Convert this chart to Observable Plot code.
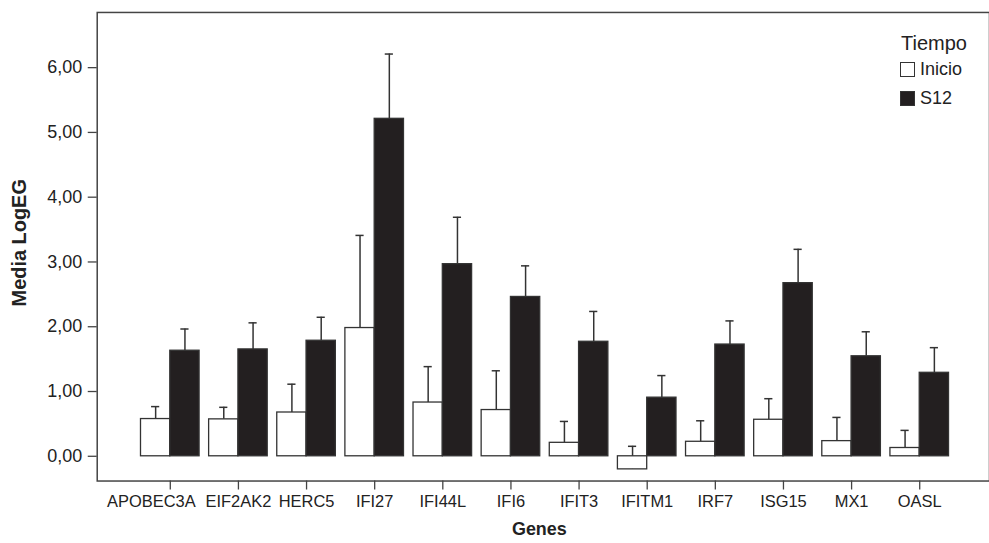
<!DOCTYPE html>
<html>
<head>
<meta charset="utf-8">
<script src="https://cdn.jsdelivr.net/npm/d3@7"></script>
<script src="https://cdn.jsdelivr.net/npm/@observablehq/plot@0.6"></script>
<style>
  html, body { margin: 0; padding: 0; background: #fff; overflow: hidden; }
  #wrap { position: relative; width: 989px; height: 543px; overflow: hidden; }
  #legend { position: absolute; left: 900px; top: 0; font-family: "Liberation Sans", Arial, sans-serif; color: #222; }
  #legend .title { position: absolute; left: 1px; top: 32px; font-size: 20px; white-space: nowrap; }
  #legend .item { position: absolute; left: 0; white-space: nowrap; font-size: 18px; line-height: 15px; }
  #legend .sw { display: inline-block; width: 13px; height: 13px; border: 1px solid #333; vertical-align: top; margin-right: 5px; }
</style>
</head>
<body>
<div id="wrap"></div>
<script>
const genes = ["APOBEC3A", "EIF2AK2", "HERC5", "IFI27", "IFI44L", "IFI6", "IFIT3", "IFITM1", "IRF7", "ISG15", "MX1", "OASL"];
const inicio = [0.575, 0.57, 0.676, 1.98, 0.83, 0.714, 0.208, -0.202, 0.224, 0.564, 0.234, 0.128];
const inicioUpper = [0.767, 0.756, 1.113, 3.41, 1.384, 1.32, 0.538, 0.154, 0.548, 0.889, 0.60, 0.40];
const s12 = [1.63, 1.65, 1.784, 5.21, 2.966, 2.46, 1.768, 0.905, 1.725, 2.673, 1.544, 1.289];
const s12Upper = [1.965, 2.06, 2.146, 6.21, 3.69, 2.94, 2.236, 1.246, 2.09, 3.195, 1.922, 1.677];
const series = ["Inicio", "S12"];
const yTicks = [0, 1, 2, 3, 4, 5, 6];

const half = 0.43;   // bar width in band units
const cap = 0.06;    // half-width of error cap

const rows = [];
genes.forEach((g, i) => {
  rows.push({gene: g, i, serie: "Inicio", side: -1, v: inicio[i], hi: inicioUpper[i]});
  rows.push({gene: g, i, serie: "S12", side: 1, v: s12[i], hi: s12Upper[i]});
});
const center = d => d.i + d.side * half / 2;

const fmt = d => d.toFixed(2).replace(".", ",");
const ink = "#333";
const idx = d3.range(genes.length);

const chart = Plot.plot({
  width: 992,
  height: 543,
  marginLeft: 97,
  marginRight: 0,
  marginTop: 12,
  marginBottom: 61,
  style: {fontFamily: "'Liberation Sans', Arial, sans-serif", fontSize: "17px", color: "#222", background: "#fff"},
  x: {type: "linear", domain: [-1.0726, 12.024]},
  y: {domain: [-0.382, 6.852]},
  marks: [
    Plot.frame({stroke: "#444", strokeWidth: 1.5}),
    Plot.ruleX(rows, {x: center, y1: "v", y2: "hi", stroke: ink, strokeWidth: 1.5}),
    Plot.ruleY(rows, {y: "hi", x1: d => center(d) - cap, x2: d => center(d) + cap, stroke: ink, strokeWidth: 1.5}),
    Plot.rect(rows, {
      x1: d => d.side < 0 ? d.i - half : d.i,
      x2: d => d.side < 0 ? d.i : d.i + half,
      y1: 0, y2: "v",
      fill: d => d.serie === "S12" ? "#231f20" : "#ffffff",
      stroke: ink, strokeWidth: 1.3
    }),
    Plot.axisY({ticks: yTicks, tickFormat: fmt, tickSize: 9, tickPadding: 6, fontSize: 18, label: null, stroke: "#444", strokeWidth: 1.3}),
    Plot.axisX({ticks: idx, tickFormat: i => i === 0 ? "" : genes[i], tickSize: 9, tickPadding: 5, fontSize: 16.5, label: null, stroke: "#444", strokeWidth: 1.3}),
    Plot.axisX({ticks: [0], tickFormat: i => genes[i], tickSize: 0, tickPadding: 14, dx: -19, fontSize: 16.5, label: null}),
    Plot.text(["Genes"], {frameAnchor: "bottom", dy: 48, dx: -4, fontSize: 18, fontWeight: "bold", textAnchor: "middle", lineAnchor: "middle", fill: "#222"}),
    Plot.text(["Media LogEG"], {frameAnchor: "left", dx: -78, dy: -4, rotate: -90, fontSize: 20, fontWeight: "bold", textAnchor: "middle", lineAnchor: "middle", fill: "#222"})
  ]
});

const wrap = document.getElementById("wrap");
wrap.appendChild(chart);

const legend = document.createElement("div");
legend.id = "legend";
legend.innerHTML = `<div class="title">Tiempo</div>` +
  series.map((s, k) => `<div class="item" style="top:${62 + k * 29}px"><span class="sw" style="background:${s === "S12" ? "#231f20" : "#fff"}"></span>${s}</div>`).join("");
wrap.appendChild(legend);
</script>
</body>
</html>
